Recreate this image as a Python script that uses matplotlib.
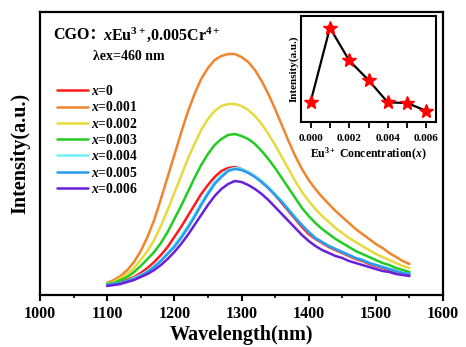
import numpy as np
import matplotlib
matplotlib.use("Agg")
import matplotlib.pyplot as plt

plt.rcParams['font.family'] = ['Liberation Serif', 'Noto Sans CJK SC', 'DejaVu Serif']
plt.rcParams['font.weight'] = 'bold'
plt.rcParams['mathtext.fontset'] = 'custom'
plt.rcParams['mathtext.rm'] = 'Liberation Serif:bold'
plt.rcParams['mathtext.bf'] = 'Liberation Serif:bold'
plt.rcParams['mathtext.it'] = 'Liberation Serif:italic:bold'

# ---- data ----
wavelength = list(range(1100, 1551, 10))
x0 = [10, 11, 13, 15, 18, 22, 27, 33, 40, 48, 58, 68, 79, 90, 101, 110, 118, 124, 127, 128,
      126, 123, 119, 113, 107, 100, 92, 84, 76, 68, 61, 56, 52, 48, 45, 42, 39, 36, 34, 31,
      29, 27, 25, 23, 21, 20]
x0_001 = [12, 15, 19, 25, 33, 44, 58, 75, 96, 118, 140, 162, 183, 201, 216, 227, 235, 239, 241, 241,
          238, 233, 225, 214, 201, 186, 170, 154, 139, 126, 115, 106, 98, 91, 84, 78, 72, 66, 61, 56,
          51, 47, 42, 38, 34, 31]
x0_002 = [11, 13, 17, 21, 27, 35, 44, 55, 69, 85, 102, 119, 136, 151, 165, 176, 184, 189, 191, 191,
          189, 185, 179, 171, 161, 150, 138, 126, 114, 103, 94, 86, 79, 73, 67, 62, 57, 53, 49, 45,
          41, 38, 35, 32, 29, 27]
x0_003 = [11, 12, 15, 18, 23, 29, 36, 43, 52, 63, 76, 89, 103, 117, 130, 141, 150, 156, 160, 161,
          159, 156, 151, 144, 136, 127, 117, 107, 97, 87, 79, 72, 66, 61, 56, 52, 48, 44, 41, 38,
          35, 32, 30, 27, 25, 23]
x0_004 = [10, 11, 12, 14, 17, 20, 24, 29, 35, 42, 50, 59, 69, 80, 92, 103, 113, 120, 125, 127,
          126, 123, 119, 114, 108, 101, 94, 86, 78, 70, 63, 57, 53, 49, 46, 43, 40, 37, 35, 32,
          30, 28, 26, 24, 22, 21]
x0_005 = [10, 11, 12, 14, 16, 19, 23, 28, 34, 41, 48, 57, 67, 78, 90, 101, 111, 118, 124, 126,
          125, 122, 118, 113, 107, 100, 93, 85, 77, 70, 63, 57, 53, 49, 46, 43, 40, 37, 35, 32,
          30, 28, 26, 24, 22, 21]
x0_006 = [9, 10, 11, 13, 15, 18, 21, 25, 30, 36, 43, 51, 60, 70, 80, 90, 99, 106, 111, 114,
          113, 110, 106, 101, 95, 88, 81, 74, 67, 60, 54, 49, 45, 42, 39, 37, 34, 32, 30, 28,
          26, 24, 23, 21, 20, 19]
series = [x0, x0_001, x0_002, x0_003, x0_004, x0_005, x0_006]
labels = [r"$\mathit{x}$=0", r"$\mathit{x}$=0.001", r"$\mathit{x}$=0.002", r"$\mathit{x}$=0.003",
          r"$\mathit{x}$=0.004", r"$\mathit{x}$=0.005", r"$\mathit{x}$=0.006"]
colors = ['#ff1a1a', '#f0852d', '#e6da3e', '#22cc22', '#70f0f8', '#2a9af0', '#6a1fd8']

conc = [0.000, 0.001, 0.002, 0.003, 0.004, 0.005, 0.006]
peak = [128, 241, 191, 161, 127, 126, 114]

W, H = 466, 347
fig = plt.figure(figsize=(W / 100, H / 100), dpi=100)

def rect(l, t, r, b):
    return [l / W, 1 - b / H, (r - l) / W, (b - t) / H]

ax = fig.add_axes(rect(40, 12, 443, 295))
for y, lab, c in zip(series, labels, colors):
    ax.plot(wavelength, y, color=c, lw=1.8, label=lab, solid_capstyle='round')
ax.set_xlim(1000, 1600)
ax.set_ylim(0, 283)
ax.set_xticks(np.arange(1000, 1601, 100))
ax.set_xticks(np.arange(1050, 1600, 100), minor=True)
ax.set_yticks([])
ax.tick_params(axis='x', which='major', direction='out', length=4, width=1.5,
               labelsize=11.5, pad=4)
ax.tick_params(axis='x', which='minor', direction='out', length=2.5, width=1.2)
for lab in ax.get_xticklabels():
    lab.set_fontweight('bold')
for s in ax.spines.values():
    s.set_linewidth(1.6)
ax.set_xlabel("Wavelength(nm)", fontsize=14.5, fontweight='bold', labelpad=2)
ax.set_ylabel("Intensity(a.u.)", fontsize=14.5, fontweight='bold', labelpad=7)

leg = ax.legend(loc='upper left', bbox_to_anchor=(57 / W, 1 - 84 / H),
                bbox_transform=fig.transFigure, frameon=False, fontsize=9.8,
                handlelength=2.3, handletextpad=0.2, labelspacing=0.17,
                borderaxespad=0, borderpad=0)
for t in leg.get_texts():
    t.set_fontweight('bold')

fig.text(53 / W, 1 - 35 / H, "CGO：", fontsize=11.5, fontweight='bold', va='center', ha='left')
fig.text(103 / W, 1 - 35 / H, r"$\mathit{x}$Eu$^{3+}$,0.005Cr$^{4+}$", fontsize=11.5,
         fontweight='bold', va='center', ha='left')
fig.text(93 / W, 1 - 56 / H, "λex=460 nm", fontsize=10, fontweight='bold', va='center', ha='left')

# inset
ins = fig.add_axes(rect(301, 16, 436, 122))
ins.plot(conc, peak, color='black', lw=1.6, marker='*', markersize=10.5,
         markerfacecolor='#ff0000', markeredgecolor='#ff0000', zorder=3)
ins.set_xlim(-0.0005, 0.0065)
ins.set_ylim(97, 259)
ins.set_xticks([0.000, 0.002, 0.004, 0.006])
ins.set_xticks([0.001, 0.003, 0.005], minor=True)
ins.set_xticklabels(["0.000", "0.002", "0.004", "0.006"])
ins.set_yticks([])
ins.tick_params(axis='x', which='both', direction='out', length=4, width=1.3,
                labelsize=8, pad=5)
for lab in ins.get_xticklabels():
    lab.set_fontweight('bold')
for s in ins.spines.values():
    s.set_linewidth(1.5)
ins.set_xlabel(r"Eu$^{3+}$ Concentration($\mathit{x}$)", fontsize=8.5, fontweight='bold', labelpad=2)
ins.set_ylabel("Intensity(a.u.)", fontsize=8, fontweight='bold', labelpad=2)

fig.savefig("out.png", dpi=100)
